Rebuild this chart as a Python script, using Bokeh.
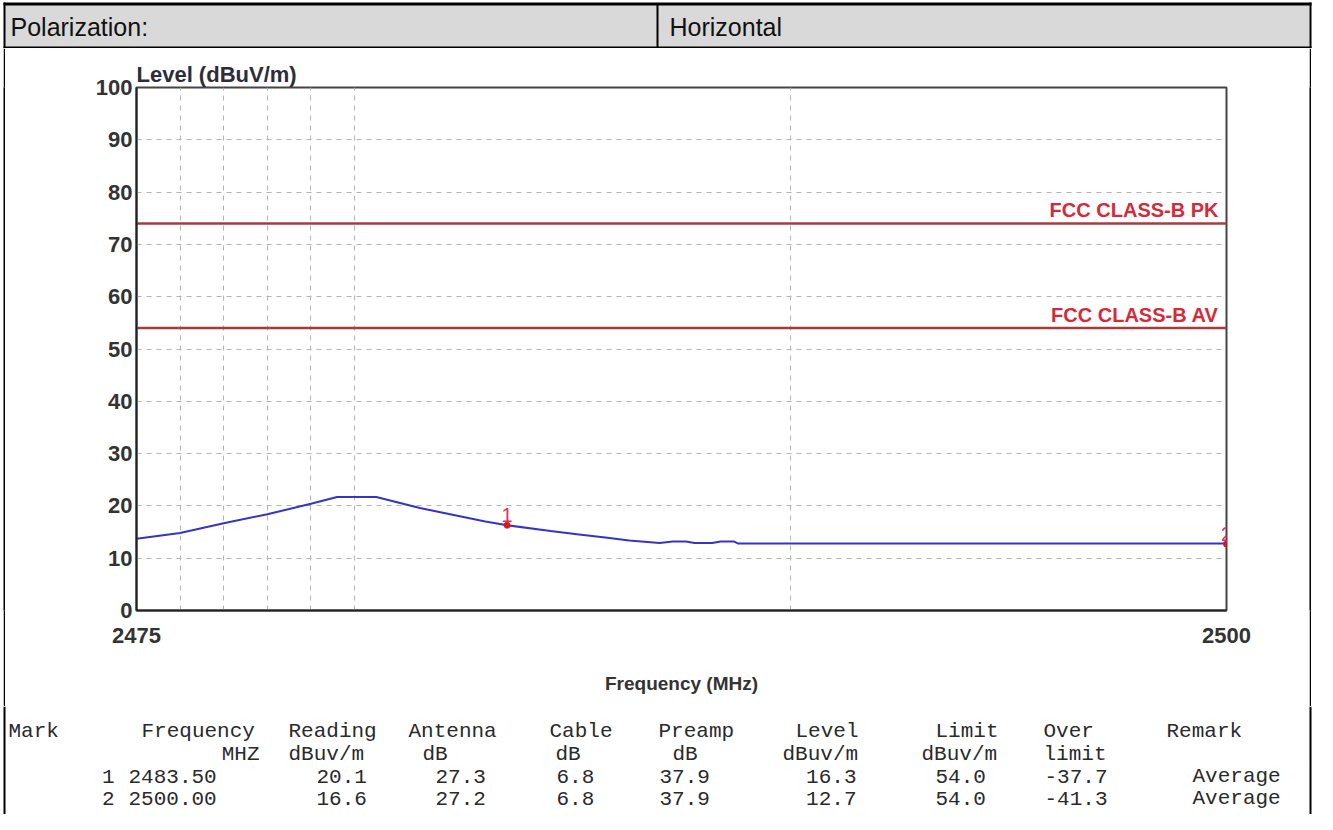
from bokeh.plotting import figure
from bokeh.models import Range1d, FixedTicker, Spacer
from bokeh.layouts import column, row
from bokeh.embed import file_html
from bokeh.resources import INLINE
from bokeh.core.properties import value

# ---------------- data ----------------
header_labels = ["Polarization:", "Horizontal"]
y_title = "Level (dBuV/m)"
x_title = "Frequency (MHz)"

curve_freq = [2475.0, 2476.0, 2477.0, 2478.0, 2479.0, 2479.6, 2480.5, 2481.5,
              2483.0, 2483.5, 2484.5, 2485.1, 2485.8, 2486.3, 2487.0, 2487.3,
              2487.6, 2487.8, 2488.2, 2488.4, 2488.7, 2488.8, 2490.0, 2495.0, 2500.0]
curve_level = [13.7, 14.8, 16.7, 18.4, 20.4, 21.7, 21.7, 19.6,
               17.0, 16.3, 15.2, 14.6, 13.9, 13.4, 12.9, 13.2,
               13.2, 12.9, 12.9, 13.2, 13.2, 12.8, 12.8, 12.8, 12.8]

limit_names = ["FCC CLASS-B PK", "FCC CLASS-B AV"]
limit_levels = [74.0, 54.0]

y_ticks = [0, 10, 20, 30, 40, 50, 60, 70, 80, 90, 100]
x_ticks = [2475, 2500]
x_grid = [2476, 2477, 2478, 2479, 2480, 2490]
y_grid = [10, 20, 30, 40, 50, 60, 70, 80, 90]

mark_ids = ["1", "2"]
mark_freq = [2483.50, 2500.00]
mark_reading = [20.1, 16.6]
mark_antenna = [27.3, 27.2]
mark_cable = [6.8, 6.8]
mark_preamp = [37.9, 37.9]
mark_level = [16.3, 12.7]
mark_limit = [54.0, 54.0]
mark_over = [-37.7, -41.3]
mark_remark = ["Average", "Average"]

table_head1 = ["Mark", "Frequency", "Reading", "Antenna", "Cable", "Preamp", "Level", "Limit", "Over", "Remark"]
table_head2 = ["MHZ", "dBuv/m", "dB", "dB", "dB", "dBuv/m", "dBuv/m", "limit"]

# ---------------- layout constants ----------------
W = 1317
H_HEAD = 48
H_CHART = 658
H_TABLE = 814 - H_HEAD - H_CHART
SANS = value("Liberation Sans")
MONO = value("Liberation Mono")


def blank(width, height):
    f = figure(width=width, height=height, x_range=Range1d(0, width), y_range=Range1d(height, 0),
               output_backend="svg", toolbar_location=None, min_border=0,
               x_axis_location=None, y_axis_location=None, outline_line_color=None)
    f.grid.visible = False
    return f


def black_strip(height):
    f = blank(2, height)
    f.background_fill_color = "black"
    f.border_fill_color = "black"
    return f

# ---------------- header ----------------
h = blank(W, H_HEAD)
h.quad(left=[4], right=[1309], top=[3.5], bottom=[47], fill_color="#d9d9d9", line_color=None)
h.segment(x0=[3, 3, 4, 1310, 657], y0=[3.5, 47, 2, 2, 3.5],
          x1=[1311, 1311, 4, 1310, 657], y1=[3.5, 47, H_HEAD, H_HEAD, 47],
          line_color="black", line_width=[3, 2, 2, 2, 2])
h.text(x=[10, 669], y=[26, 26], text=header_labels, text_font=SANS, text_font_size="25px",
       text_baseline="middle", text_align="left", text_color="#111111")

# ---------------- chart ----------------
p = figure(width=1304, height=H_CHART, x_range=Range1d(2475, 2500), y_range=Range1d(0, 100),
           output_backend="svg", toolbar_location=None, title=y_title,
           min_border_left=131, min_border_right=83, min_border_top=39, min_border_bottom=96)
p.outline_line_color = "#444444"
p.outline_line_width = 2
p.title.align = "left"
p.title.text_font = "Liberation Sans"
p.title.text_font_style = "bold"
p.title.text_font_size = "22px"
p.title.text_color = "#2d2d3a"
p.title.standoff = 2
p.title.offset = 0

p.xgrid.ticker = FixedTicker(ticks=x_grid)
p.ygrid.ticker = FixedTicker(ticks=y_grid)
p.grid.grid_line_color = "#b4b4b4"
p.grid.grid_line_dash = "5 5"
p.grid.grid_line_width = 1

p.yaxis.ticker = FixedTicker(ticks=y_ticks)
p.xaxis.ticker = FixedTicker(ticks=x_ticks)
for ax in (p.xaxis, p.yaxis):
    ax.axis_line_color = "#222222"
    ax.axis_line_width = 2
    ax.major_tick_line_color = None
    ax.minor_tick_line_color = None
    ax.major_tick_out = 0
    ax.major_tick_in = 0
    ax.minor_tick_out = 0
    ax.major_label_text_font = "Liberation Sans"
    ax.major_label_text_font_style = "bold"
    ax.major_label_text_font_size = "22px"
    ax.major_label_text_color = "#333333"
p.yaxis.major_label_standoff = 4
p.xaxis.major_label_standoff = 17
p.xaxis.axis_label = x_title
p.xaxis.axis_label_text_font = "Liberation Sans"
p.xaxis.axis_label_text_font_style = "bold"
p.xaxis.axis_label_text_font_size = "19px"
p.xaxis.axis_label_text_color = "#333333"
p.xaxis.axis_label_standoff = 27

# limit lines
p.segment(x0=[2475] * len(limit_levels), y0=limit_levels, x1=[2500] * len(limit_levels), y1=limit_levels,
          line_color="#a83c3c", line_width=2.5)
p.text(x=[2500] * len(limit_levels), y=limit_levels, text=limit_names, text_align="right",
       text_baseline="bottom", x_offset=-8, y_offset=-2, text_font=SANS, text_font_style="bold",
       text_font_size="20px", text_color="#d42a3a")

# trace
p.line(curve_freq, curve_level, line_color="#3434c8", line_width=2)

# markers
p.scatter(mark_freq, mark_level, size=6, color="#e01818")
p.text(x=mark_freq, y=mark_level, text=mark_ids, text_align="center", text_baseline="bottom",
       y_offset=-3, text_font=SANS, text_font_size="20px", text_color="#e0305a")

chart_row = row(Spacer(width=3, height=H_CHART), black_strip(H_CHART), p,
                black_strip(H_CHART), Spacer(width=6, height=H_CHART))

# ---------------- table ----------------
t = blank(W, H_TABLE)
t.segment(x0=[4, 1310], y0=[0, 0], x1=[4, 1310], y1=[H_TABLE, H_TABLE], line_color="black", line_width=2)

row_y = [25, 48, 70, 92]
tc = "#2a2a2a"
FS = "21px"
h1_x = [8, 141, 288, 408, 549, 658, 795, 935, 1043, 1166]
t.text(x=h1_x, y=[row_y[0]] * len(h1_x), text=table_head1, text_font=MONO, text_font_size=FS,
       text_baseline="middle", text_align="left", text_color=tc)
h2_x = [259, 288, 422, 555, 672, 782, 921, 1043]
h2_align = ["right", "left", "left", "left", "left", "left", "left", "left"]
t.text(x=h2_x, y=[row_y[1]] * len(h2_x), text=table_head2, text_font=MONO, text_font_size=FS,
       text_baseline="middle", text_align=h2_align, text_color=tc)

cell_x = [114, 128, 316, 435, 556, 659, 856, 935, 1044, 1192]
cell_align = ["right", "left", "left", "left", "left", "left", "right", "left", "left", "left"]
for i in range(len(mark_ids)):
    cells = [mark_ids[i], f"{mark_freq[i]:.2f}", f"{mark_reading[i]:.1f}", f"{mark_antenna[i]:.1f}",
             f"{mark_cable[i]:.1f}", f"{mark_preamp[i]:.1f}", f"{mark_level[i]:.1f}",
             f"{mark_limit[i]:.1f}", f"{mark_over[i]:.1f}", mark_remark[i]]
    t.text(x=cell_x, y=[row_y[2 + i]] * len(cell_x), text=cells, text_font=MONO, text_font_size=FS,
           text_baseline="middle", text_align=cell_align, text_color=tc)

layout = column(h, chart_row, t)

open("out.html", "w").write(file_html(layout, INLINE))
